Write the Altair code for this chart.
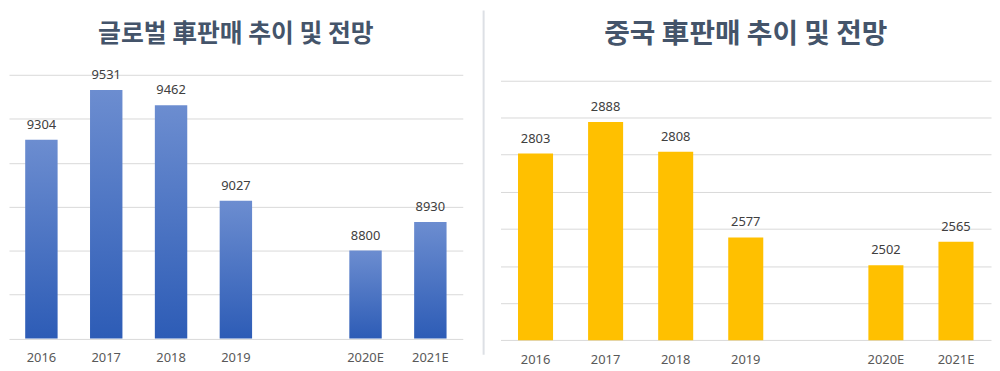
import altair as alt
import pandas as pd

years = ["2016", "2017", "2018", "2019", "2020E", "2021E"]
domain_x = ["2016", "2017", "2018", "2019", " ", "2020E", "2021E"]
global_sales = [9304, 9531, 9462, 9027, 8800, 8930]
china_sales = [2803, 2888, 2808, 2577, 2502, 2565]
titles = ["글로벌 車판매 추이 및 전망", "중국 車판매 추이 및 전망"]
global_ticks = [8400, 8600, 8800, 9000, 9200, 9400, 9600]
china_ticks = [2300, 2400, 2500, 2600, 2700, 2800, 2900, 3000]

FONT = "Noto Sans"
TFONT = "Noto Sans CJK KR"

df_g = pd.DataFrame({"year": years, "value": global_sales})
df_c = pd.DataFrame({"year": years, "value": china_sales})

grad = alt.LinearGradient(
    gradient="linear",
    stops=[alt.GradientStop(color="#2d5cb6", offset=0),
           alt.GradientStop(color="#6c8dd0", offset=1)],
    x1=1, x2=1, y1=1, y2=0,
)


def panel(df, ticks, color, title, width, height, yrange, title_size, title_y):
    xenc = alt.X("year:N", sort=domain_x,
                 scale=alt.Scale(domain=domain_x, paddingInner=0.5, paddingOuter=0.25),
                 axis=alt.Axis(title=None, labelAngle=0, ticks=False, domain=False,
                               labelPadding=13, labelFont=FONT, labelFontSize=13,
                               labelColor="#595959", grid=False))
    if yrange is not None:
        yscale = alt.Scale(domain=[ticks[0], ticks[-1]], nice=False, zero=False, range=yrange)
    else:
        yscale = alt.Scale(domain=[ticks[0], ticks[-1]], nice=False, zero=False)
    yenc = alt.Y("value:Q", scale=yscale,
                 axis=alt.Axis(title=None, values=ticks, labels=False, ticks=False,
                               domain=False, grid=True, gridColor="#d9d9d9", gridWidth=1))
    base = alt.Chart(df).encode(x=xenc, y=yenc)
    bars = base.mark_bar(color=color).encode(y2=alt.Y2(datum=ticks[0]))
    labels = base.mark_text(baseline="alphabetic", dy=-11, font=FONT, fontSize=13,
                            color="#404040").encode(text="value:Q")
    ttl = alt.Chart(pd.DataFrame({"t": [title]})).mark_text(
        font=TFONT, fontSize=title_size, fontWeight="bold", color="#44546a",
        baseline="middle", align="center"
    ).encode(text="t:N", x=alt.value(width / 2), y=alt.value(title_y))
    return alt.layer(bars, labels, ttl).properties(width=width, height=height)


left = panel(df_g, global_ticks, grad, titles[0], 457, 265.6, None, 25, -41)
right_main = panel(df_c, china_ticks, "#ffc000", titles[1], 494, 267.3, [267.3, 5.6], 28, -40.5)
sep = alt.Chart(pd.DataFrame({"s": [0]})).mark_rule(color="#dde0e5", strokeWidth=2).encode(
    x=alt.value(-17), y=alt.value(-64.7), y2=alt.value(282))
right = alt.layer(right_main, sep)

chart = alt.hconcat(left, right, spacing=38, bounds="flush").resolve_scale(
    y="independent", x="independent"
).properties(
    padding={"left": 1, "top": 0, "right": 1, "bottom": 0},
).configure_view(stroke=None)

chart.save("out.html", embed_options={"renderer": "svg", "actions": False})
